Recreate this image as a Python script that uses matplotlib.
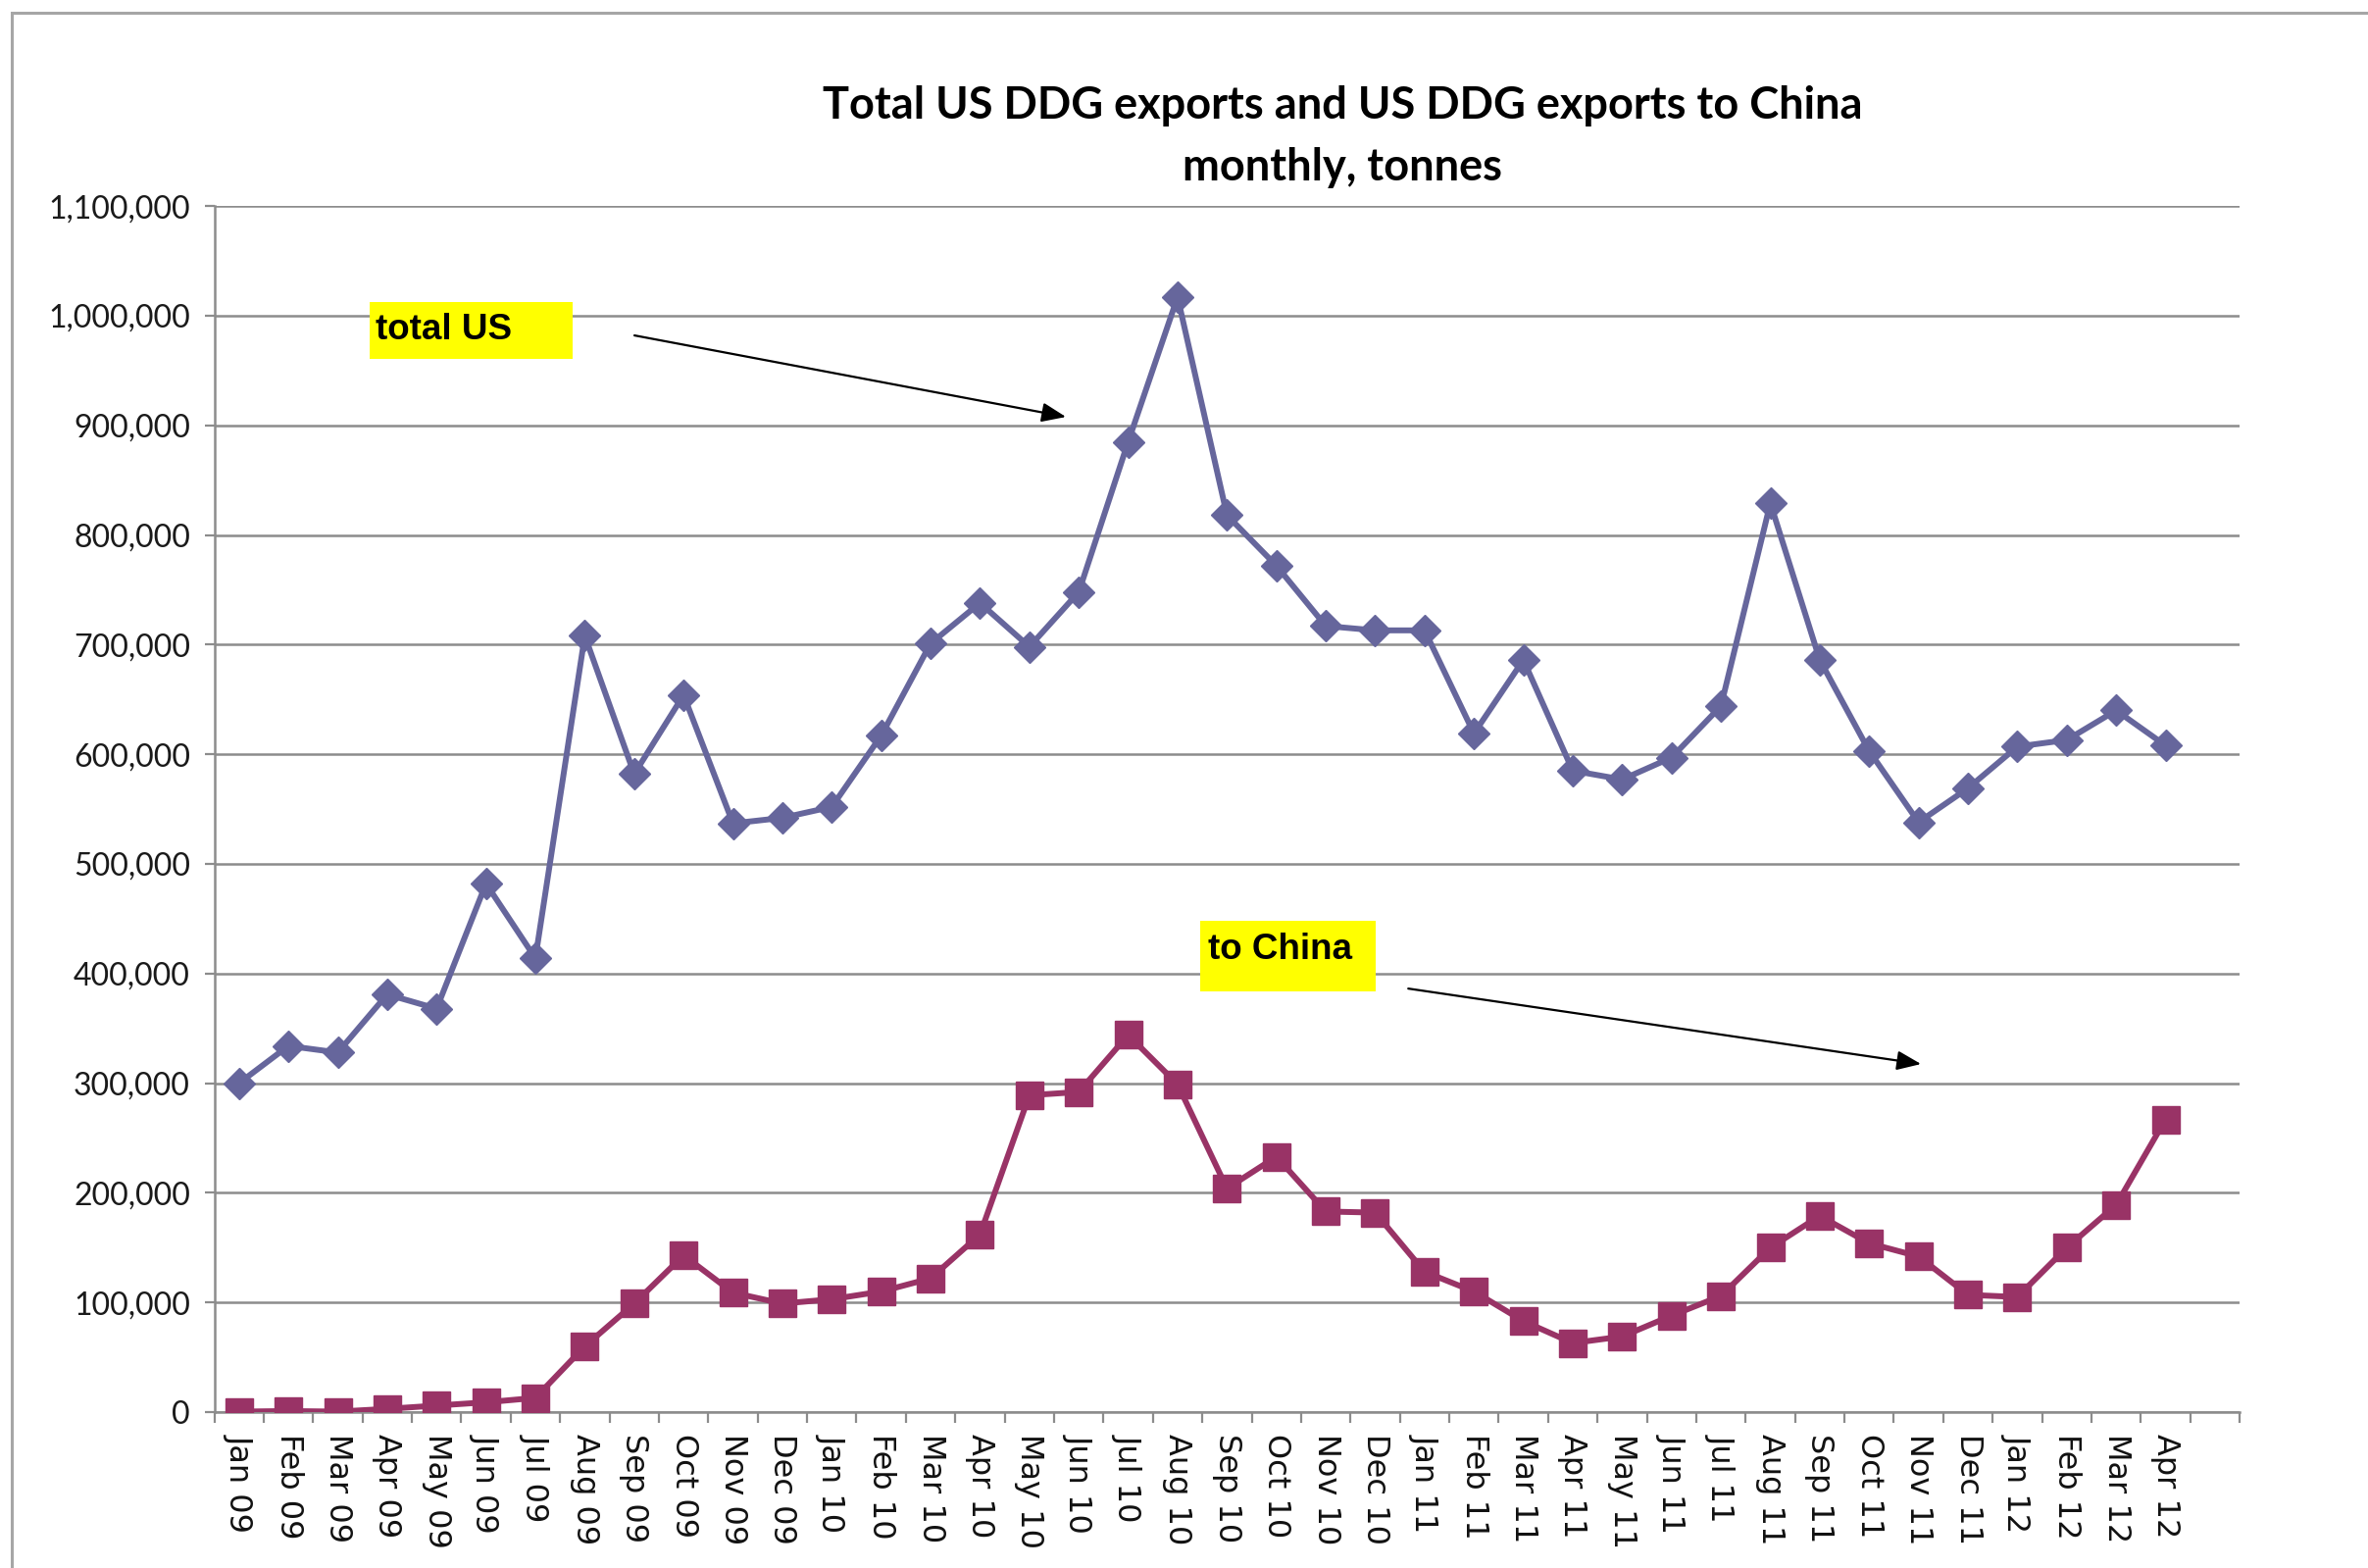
import matplotlib
matplotlib.use("Agg")
import matplotlib.pyplot as plt
import numpy as np
from matplotlib.patches import Rectangle
from matplotlib.ticker import FuncFormatter, FixedLocator

# monthly US DDG exports, tonnes
months = [
    "Jan 09", "Feb 09", "Mar 09", "Apr 09", "May 09", "Jun 09", "Jul 09",
    "Aug 09", "Sep 09", "Oct 09", "Nov 09", "Dec 09",
    "Jan 10", "Feb 10", "Mar 10", "Apr 10", "May 10", "Jun 10", "Jul 10",
    "Aug 10", "Sep 10", "Oct 10", "Nov 10", "Dec 10",
    "Jan 11", "Feb 11", "Mar 11", "Apr 11", "May 11", "Jun 11", "Jul 11",
    "Aug 11", "Sep 11", "Oct 11", "Nov 11", "Dec 11",
    "Jan 12", "Feb 12", "Mar 12", "Apr 12",
]
total_us = [
    300000, 334000, 328000, 381000, 368000, 482000, 414000, 708000,
    582000, 654000, 537000, 542000, 552000, 617000, 701000, 738000,
    698000, 748000, 885000, 1017000, 818000, 772000, 717000, 713000,
    713000, 619000, 686000, 585000, 577000, 597000, 644000, 829000,
    686000, 603000, 538000, 569000, 607000, 613000, 640000, 608000,
]
to_china = [
    500, 1000, 500, 3000, 6000, 9000, 13000, 60000,
    99000, 143000, 109000, 99000, 103000, 110000, 122000, 162000,
    289000, 292000, 344000, 299000, 204000, 233000, 183000, 182000,
    128000, 110000, 83000, 63000, 69000, 88000, 106000, 150000,
    179000, 154000, 142000, 107000, 105000, 150000, 189000, 267000,
]
# one empty category slot after the last month
n_slots = len(months) + 1

BLUE = "#66669c"
PLUM = "#993366"
GRID = "#8c8c8c"

fig = plt.figure(figsize=(24.15, 15.99), dpi=100)
ax = fig.add_axes([0.0905, 0.0994, 0.8553, 0.7692])

x = np.arange(len(months))
ax.plot(x, total_us, color=BLUE, lw=4.3, marker="D", ms=16.5,
        mec=BLUE, mfc=BLUE, zorder=3)
ax.plot(x, to_china, color=PLUM, lw=4.3, marker="s", ms=19.5,
        mec=PLUM, mfc=PLUM, zorder=3)

ax.set_xlim(-0.5, n_slots - 0.5)
ax.set_ylim(0, 1100000)

# y axis
ax.set_yticks(np.arange(0, 1100001, 100000))
ax.yaxis.set_major_formatter(FuncFormatter(lambda v, _: f"{int(v):,}"))
ax.tick_params(axis="y", direction="out", length=7.2, width=1.6,
               color=GRID, pad=10.5, labelsize=23, labelcolor="#1a1a1a")
for lbl in ax.get_yticklabels():
    lbl.set_family(["Lato", "DejaVu Sans"])

# x axis: labels centred on categories, tick marks on category boundaries
ax.set_xticks(np.arange(n_slots))
ax.set_xticklabels(months + [""], rotation=-90, fontsize=23,
                   family="DejaVu Sans", color="#111111")
ax.xaxis.set_minor_locator(FixedLocator(np.arange(-0.5, n_slots, 1.0)))
ax.tick_params(axis="x", which="major", length=0, pad=16)
ax.tick_params(axis="x", which="minor", direction="out", length=8,
               width=1.6, color=GRID)

ax.yaxis.grid(True, color=GRID, lw=1.8)
ax.set_axisbelow(True)
for side in ("top", "right"):
    ax.spines[side].set_visible(False)
for side in ("left", "bottom"):
    ax.spines[side].set_color(GRID)
    ax.spines[side].set_linewidth(1.8)

# callout boxes with arrows
labels = [
    ("total US", (2.646, 960500, 4.109, 51900), (2.77, 987300),
     (8.005, 982000), (16.74, 907700)),
    ("to China", (19.46, 383700, 3.55, 64300), (19.62, 422100),
     (23.67, 386300), (34.05, 317500)),
]
for text, (bx, by, bw, bh), txy, start, end in labels:
    ax.add_patch(Rectangle((bx, by), bw, bh, facecolor="#ffff00",
                           edgecolor="none", zorder=4))
    ax.text(txy[0], txy[1], text, fontsize=26.5, fontweight="bold",
            family="Liberation Sans", va="center", ha="left", zorder=5)
    ax.annotate("", xy=end, xytext=start, zorder=5,
                arrowprops=dict(arrowstyle="-|>,head_length=1.5,head_width=0.6",
                                color="black", lw=1.6,
                                shrinkA=0, shrinkB=0))

fig.text(0.567, 0.9325, "Total US DDG exports and US DDG exports to China",
         ha="center", va="center", fontsize=32.5, fontweight="bold",
         family="Lato")
fig.text(0.567, 0.8931, "monthly, tonnes", ha="center", va="center",
         fontsize=32.5, fontweight="bold", family="Lato")

# chart area frame
fig.add_artist(Rectangle((12 / 2415, -0.05), 1.2, 1.05 - 13 / 1599,
                         transform=fig.transFigure, fill=False,
                         edgecolor="#a6a6a6", lw=2.2))

fig.savefig("out.png", dpi=100)
